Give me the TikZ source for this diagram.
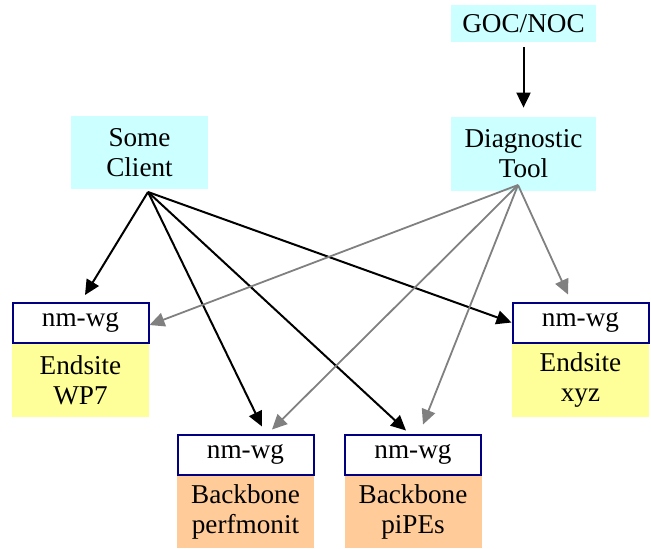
\documentclass[tikz,border=0pt]{standalone}
\usepackage{fontspec}
\setmainfont{Liberation Serif}
\usetikzlibrary{positioning,arrows.meta}
\definecolor{actorcyan}{HTML}{CCFFFF}
\definecolor{endsiteyellow}{HTML}{FFFF99}
\definecolor{backboneorange}{HTML}{FFCC99}
\definecolor{nmnavy}{HTML}{000080}
\definecolor{toolgray}{HTML}{808080}

\begin{document}
\begin{tikzpicture} [x=0.5pt,y=-0.5pt,
	every node/.style={
		font=\rmfamily\fontsize{13.6}{15}\selectfont,
		align=center,
		inner sep=0pt
	},
	actorbox/.style={
		fill=actorcyan,
		minimum width=72.5pt,
		minimum height=#1
	},
	nmbox/.style={
		draw=nmnavy,
		line width=1pt,
		fill=white,
		minimum width=68pt,
		minimum height=20pt
	},
	sitebox/.style={
		fill=#1,
		minimum width=68.5pt,
		minimum height=36.5pt
	},
	clientarrow/.style={
		draw=black,
		line width=1pt,
		-{Triangle[length=7.5pt,width=7pt]}
	},
	toolarrow/.style={
		draw=toolgray,
		line width=0.9pt,
		-{Triangle[length=7.5pt,width=7pt]}
	}
]
	\useasboundingbox (0,0) rectangle (651,548);

	% actors
	\node [actorbox=18.5pt] (goc) at (523.5,23.5) {GOC/NOC};
	\node [actorbox=36.5pt,minimum width=68.5pt] (client) at (139.5,152.5) {Some\\Client};
	\node [actorbox=37pt] (tool) at (523.5,154) {Diagnostic\\Tool};
	\coordinate (clientout) at (148,192);
	\coordinate (toolout) at (518,185);

	% measurement points
	\node [nmbox] (wpnm) at (80.5,322.5) {nm-wg};
	\node [nmbox] (xyznm) at (580.5,322.5) {nm-wg};
	\node [nmbox] (pmnm) at (245.5,454.5) {nm-wg};
	\node [nmbox] (pipesnm) at (413,454.5) {nm-wg};
	\node [sitebox=endsiteyellow,below=0pt of wpnm] (wp) {Endsite\\WP7};
	\node [sitebox=endsiteyellow,below=0pt of xyznm] (xyz) {Endsite\\xyz};
	\node [sitebox=backboneorange,minimum height=36pt,below=0pt of pmnm] (pm) {Backbone\\perfmonit};
	\node [sitebox=backboneorange,minimum height=36pt,below=0pt of pipesnm] (pipes) {Backbone\\piPEs};

	% client requests
	\draw [clientarrow] (clientout) -- ([xshift=2.25pt,yshift=3.25pt]wpnm.north);
	\draw [clientarrow] (clientout) -- ([xshift=8.25pt,yshift=3.5pt]pmnm.north);
	\draw [clientarrow] (clientout) -- ([xshift=-3.5pt,yshift=1.5pt]pipesnm.north);
	\draw [clientarrow] (clientout) -- (xyznm.west);

	% diagnostic requests
	\draw [toolarrow] (toolout) -- ([yshift=-1.25pt]wpnm.east);
	\draw [toolarrow] (toolout) -- ([xshift=13.25pt,yshift=2pt]pmnm.north);
	\draw [toolarrow] (toolout) -- ([xshift=5pt,yshift=4.5pt]pipesnm.north);
	\draw [toolarrow] (toolout) -- ([xshift=-6.25pt,yshift=3.5pt]xyznm.north);

	\draw [clientarrow,shorten <=2.5pt,shorten >=4.5pt] (goc) -- (tool);
\end{tikzpicture}
\end{document}
